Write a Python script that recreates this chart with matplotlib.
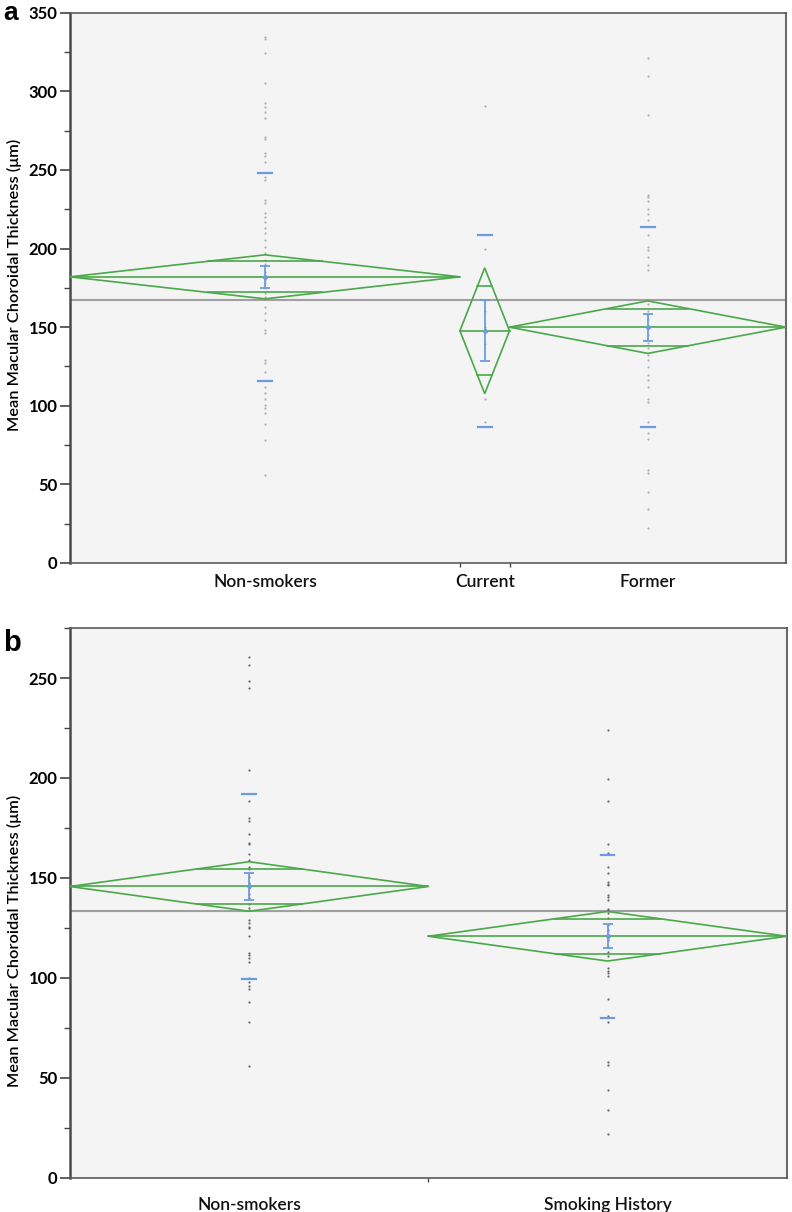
import numpy as np
import matplotlib
matplotlib.use("Agg")
import matplotlib.pyplot as plt
from matplotlib.patches import Polygon
from matplotlib.ticker import MultipleLocator, FixedLocator

plt.rcParams['font.family'] = ['Lato', 'DejaVu Sans']

# ---------------- Panel a data ----------------
a_groups = ["Non-smokers", "Current", "Former"]
a_n = [55, 7, 39]
a_mean = [182.0, 147.7, 150.0]
a_ci_half = [14.0, 40.0, 16.7]
a_se = [7.2, 19.4, 8.5]
a_sd = [66.0, 61.0, 63.6]
a_grand_mean = 167.2
a_points_non = [334.8, 333, 324.6, 305.5, 292.8, 290.3, 287, 282.9, 271.2, 269.5,
                260.6, 258.9, 255.3, 245.7, 243.6, 230.9, 228.8, 222.4, 220.3, 217,
                212.9, 209.7, 205.4, 201.2, 197, 192.7, 190, 185, 180, 178, 175,
                172, 169, 163, 158.7, 154.5, 148, 146, 129, 127, 121.6, 112, 107.8,
                104.6, 100.4, 98.3, 95.1, 88.7, 78.1, 55.8]
a_points_cur = [290.7, 199.7, 160, 150, 139, 104.6, 89.8]
a_points_for = [321, 310, 285, 234, 233, 230, 225, 221.7, 218, 208.6, 201, 199,
                194.8, 189.5, 186.3, 165, 160, 155, 150, 145, 140, 137, 132.2, 129,
                124.4, 119.5, 116.3, 112, 104.6, 102.5, 89.8, 82.4, 78.6, 59, 57,
                45.2, 34.6, 22.5]
a_ylim = 350

# ---------------- Panel b data ----------------
b_groups = ["Non-smokers", "Smoking History"]
b_n = [50, 50]
b_mean = [145.7, 120.8]
b_ci_half = [12.4, 12.4]
b_se = [6.6, 5.9]
b_sd = [46.3, 40.9]
b_grand_mean = 133.4
b_points_non = [260.5, 256.4, 248.5, 245.2, 204.2, 188.3, 180.2, 178.3, 172.2,
                167.7, 166.8, 162.2, 158.8, 155.5, 154.7, 150.5, 147.2, 145.8,
                144.7, 142, 140, 137, 135, 128.8, 127.2, 125.5, 124.7, 120.8, 112.5,
                111.3, 109.7, 108, 99.7, 98, 95.8, 94.2, 88, 78, 56]
b_points_smk = [224.2, 199.3, 188.3, 167.2, 162.7, 155.5, 152.2, 148, 146.8, 146.3,
                141.3, 140.5, 138.8, 134.6, 133.8, 132.2, 129.7, 126.3, 123.8, 121.3,
                118.8, 115.5, 113, 110.8, 104.7, 103.5, 102.2, 100.8, 89.2, 80.8, 78,
                58, 56.3, 43.8, 33.8, 21.8]
b_ylim = 275

GREEN = '#4aa84a'
BLUE = '#6d9be0'
GRAY_LINE = '#a0a0a0'
BG = '#f4f4f4'

fig = plt.figure(figsize=(7.92, 12.12), dpi=100)


def draw_panel(ax, groups, ns, means, ci_half, se, sd, grand, point_lists,
               ylim, pt_color, label_pad, ylabel_y):
    total = sum(ns)
    edges = np.concatenate([[0], np.cumsum(ns)])
    centers = (edges[:-1] + edges[1:]) / 2
    ax.set_facecolor(BG)
    ax.set_xlim(0, total)
    ax.set_ylim(0, ylim)
    # grand mean
    ax.axhline(grand, color=GRAY_LINE, lw=1.5, zorder=1)
    for i in range(len(groups)):
        x0, x1, xc = edges[i], edges[i + 1], centers[i]
        w = x1 - x0
        m, h = means[i], ci_half[i]
        # points
        pts = point_lists[i]
        ax.plot([xc] * len(pts), pts, 'o', ms=1.6, color=pt_color, mec='none', zorder=2)
        # diamond
        poly = Polygon([[x0, m], [xc, m + h], [x1, m], [xc, m - h]], closed=True,
                       fill=False, ec=GREEN, lw=1.2, zorder=3)
        ax.add_patch(poly)
        ax.plot([x0, x1], [m, m], color=GREEN, lw=1.2, zorder=3)
        ov = h / np.sqrt(2)
        hw = 0.5 * w * (1 - 1 / np.sqrt(2))
        for yy in (m + ov, m - ov):
            ax.plot([xc - hw, xc + hw], [yy, yy], color=GREEN, lw=1.2, zorder=3)
        # error bar of mean (SE)
        ax.errorbar([xc], [m], yerr=[[se[i]], [se[i]]], fmt='none', ecolor=BLUE,
                    elinewidth=1.3, capsize=3.5, capthick=1.3, zorder=4)
        ax.plot([xc], [m], 'o', ms=2.5, color=BLUE, zorder=4)
        # SD marks
        dash = total * 0.0095
        for yy in (m + sd[i], m - sd[i]):
            ax.plot([xc - dash, xc + dash], [yy, yy], color=BLUE, lw=1.6, zorder=4)
    # axes styling
    for s in ax.spines.values():
        s.set_color('#5a5a5a')
        s.set_linewidth(1.2)
    ax.spines['left'].set_linewidth(1.8)
    ax.spines['left'].set_color('#4a4a4a')
    ax.spines['right'].set_color('#6a6a6a')
    ax.spines['right'].set_linewidth(1.5)
    ax.yaxis.set_major_locator(MultipleLocator(50))
    ax.yaxis.set_minor_locator(MultipleLocator(25))
    ax.tick_params(axis='y', which='major', length=7, width=1.2, color='#444444',
                   labelsize=12, pad=2)
    ax.tick_params(axis='y', which='minor', length=4, width=1.0, color='#444444')
    for lab in ax.get_yticklabels():
        lab.set_fontweight('bold')
    ax.xaxis.set_major_locator(FixedLocator(centers))
    ax.set_xticklabels(groups, fontsize=12.5, fontweight='semibold')
    ax.tick_params(axis='x', which='major', length=0, pad=label_pad, labelcolor='#111111')
    ax.xaxis.set_minor_locator(FixedLocator(edges[1:-1]))
    ax.tick_params(axis='x', which='minor', length=3, width=1.0, color='#444444')
    ax.set_ylabel('Mean Macular Choroidal Thickness (μm)', fontsize=11.8,
                  fontweight='semibold')
    ax.yaxis.set_label_coords(-0.067, ylabel_y)


ax_a = fig.add_axes([0.0884, 0.5355, 0.9040, 0.4540])
draw_panel(ax_a, a_groups, a_n, a_mean, a_ci_half, a_se, a_sd, a_grand_mean,
           [a_points_non, a_points_cur, a_points_for], a_ylim, '#b0b0b0', 8, 0.505)

ax_b = fig.add_axes([0.0884, 0.0283, 0.9050, 0.4535])
draw_panel(ax_b, b_groups, b_n, b_mean, b_ci_half, b_se, b_sd, b_grand_mean,
           [b_points_non, b_points_smk], b_ylim, '#6a6a6a', 14, 0.43)

fig.text(0.004, 0.9832, 'a', fontsize=19, fontweight='bold', family='Liberation Sans',
         ha='left', va='baseline')
fig.text(0.004, 0.4625, 'b', fontsize=21, fontweight='bold', family='Liberation Sans',
         ha='left', va='baseline')

fig.savefig('out.png', dpi=100)
